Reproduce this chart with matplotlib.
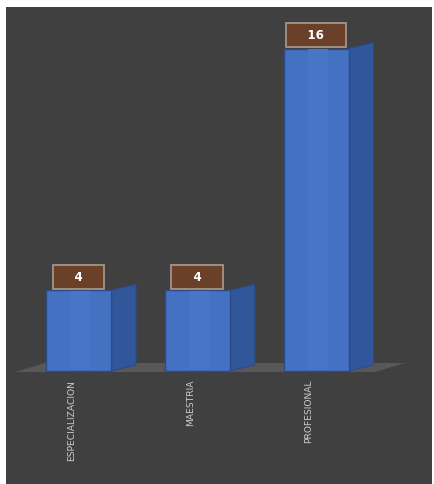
import matplotlib

matplotlib.use("Agg")
import matplotlib.pyplot as plt
from matplotlib.patches import Polygon, Rectangle

categories = ["ESPECIALIZACION", "MAESTRIA", "PROFESIONAL"]
values = [4, 4, 16]

W, H = 434, 485
BG = "#404040"
FRONT = "#4471c2"
SIDE = "#31579a"
EDGE = "#2b4c86"

fig = plt.figure(figsize=(W / 100, H / 100), dpi=100)
fig.patch.set_facecolor("white")

# dark plot area
left, right, top, bottom = 6, 432, 8, 485
ax = fig.add_axes([left / W, 1 - bottom / H, (right - left) / W, (bottom - top) / H])
ax.set_facecolor(BG)
for s in ax.spines.values():
    s.set_visible(False)
ax.set_xticks([])
ax.set_yticks([])

# pixel -> data mapping
px_per_x = 118.75
px_per_y = 20.15
x0_px, base_px = 78.5, 372
ax.set_xlim((left - x0_px) / px_per_x, (right - x0_px) / px_per_x)
ax.set_ylim((base_px - bottom) / px_per_y, (base_px - top) / px_per_y)

bw = 65 / px_per_x
dx = 25 / px_per_x
dy = 6 / px_per_y
xs = list(range(len(categories)))

fx = lambda p: (p - x0_px) / px_per_x
fy = lambda p: (base_px - p) / px_per_y

# floor
ax.add_patch(Polygon([(fx(15), fy(373)), (fx(375), fy(373)), (fx(405), fy(364)), (fx(45), fy(364))],
                     closed=True, facecolor="#585858", edgecolor="none", zorder=1))

ax.bar(xs, values, width=bw, color=FRONT, edgecolor=EDGE, linewidth=1, zorder=3)
for x, v in zip(xs, values):
    xr = x + bw / 2
    ax.add_patch(Polygon([(xr, 0), (xr + dx, dy), (xr + dx, v + dy), (xr, v)],
                         closed=True, facecolor=SIDE, edgecolor=EDGE, linewidth=0.8, zorder=2))
    # subtle lighter band on front face
    ax.add_patch(Rectangle((x - bw * 0.12, 0.03), bw * 0.3, v - 0.06, facecolor="#4875c5",
                           edgecolor="none", zorder=3.5))
    ax.annotate(f"    {v}    ", (x, v), xytext=(0, 9.8), textcoords="offset points",
                ha="center", va="center", color="white", fontsize=8.5, fontweight="bold",
                bbox={"boxstyle": "square,pad=0.45", "facecolor": "#6b4028",
                      "edgecolor": "#a99c90", "linewidth": 1.2},
                zorder=5)
    ax.text(x - 0.06, fy(380), categories[x], rotation=90, ha="center", va="top",
            color="#cccccc", fontsize=6.6, zorder=5)

fig.savefig("out.png", dpi=100, facecolor="white")
